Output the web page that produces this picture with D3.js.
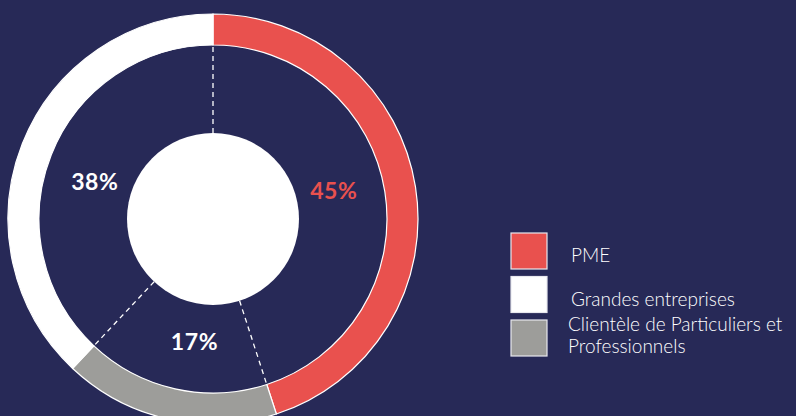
<!DOCTYPE html>
<html>
<head>
<meta charset="utf-8">
<script src="https://cdn.jsdelivr.net/npm/d3@7"></script>
<style>
  html, body { margin: 0; padding: 0; background: #272957; }
  svg { display: block; }
</style>
</head>
<body>
<script>
// chart data
var categories = ["PME", "Clientèle de Particuliers et Professionnels", "Grandes entreprises"];
var values = [45, 17, 38];
var colors = ["#e9514e", "#9d9d9a", "#ffffff"];
var labelColors = ["#e9514e", "#ffffff", "#ffffff"];

// legend order as in the picture
var legendOrder = ["PME", "Grandes entreprises", "Clientèle de Particuliers et Professionnels"];
var legendLines = [["PME"], ["Grandes entreprises"], ["Clientèle de Particuliers et", "Professionnels"]];

var svgWidth = 796;
var svgHeight = 416;

var cx = 213, cy = 219;
var outerR = 205, innerR = 174, holeR = 86;

var svg = d3.select("body").append("svg")
  .attr("width", svgWidth)
  .attr("height", svgHeight);

svg.append("rect")
  .attr("width", svgWidth)
  .attr("height", svgHeight)
  .attr("fill", "#272957");

var data = categories.map(function(c, i) {
  return { name: c, value: values[i], color: colors[i], labelColor: labelColors[i] };
});

var pie = d3.pie().sort(null).value(d => d.value);
var arcs = pie(data);

var arc = d3.arc().innerRadius(innerR).outerRadius(outerR);

var chartGroup = svg.append("g")
  .attr("transform", `translate(${cx}, ${cy})`);

chartGroup.selectAll("path.slice")
  .data(arcs)
  .enter().append("path")
  .attr("class", "slice")
  .attr("d", arc)
  .attr("fill", d => d.data.color)
  .attr("stroke", "#ffffff")
  .attr("stroke-width", 1.2);

// centre disc
chartGroup.append("circle")
  .attr("r", holeR)
  .attr("fill", "#ffffff");

// dashed separators at each slice boundary
chartGroup.selectAll("line.sep")
  .data(arcs)
  .enter().append("line")
  .attr("class", "sep")
  .attr("x1", d => Math.sin(d.startAngle) * holeR)
  .attr("y1", d => -Math.cos(d.startAngle) * holeR)
  .attr("x2", d => Math.sin(d.startAngle) * innerR)
  .attr("y2", d => -Math.cos(d.startAngle) * innerR)
  .attr("stroke", "#ffffff")
  .attr("stroke-width", 1.3)
  .attr("stroke-dasharray", "5,4");

// percentage labels, a little before the middle of each slice
var labelR = 124, labelShift = -4 * Math.PI / 180;
chartGroup.selectAll("text.pct")
  .data(arcs)
  .enter().append("text")
  .attr("class", "pct")
  .attr("transform", function(d) {
    var a = (d.startAngle + d.endAngle) / 2 + labelShift;
    return `translate(${Math.sin(a) * labelR}, ${-Math.cos(a) * labelR})`;
  })
  .attr("text-anchor", "middle")
  .attr("dy", "0.35em")
  .attr("font-family", "Lato, 'Open Sans', sans-serif")
  .attr("font-weight", "bold")
  .attr("font-size", 23)
  .attr("letter-spacing", 0.6)
  .attr("fill", d => d.data.labelColor)
  .text(d => d.data.value + "%");

// legend
var legendY = d3.scalePoint().domain(legendOrder).range([251, 338]);
var legend = svg.append("g").attr("transform", "translate(511, 0)");

var items = legend.selectAll("g.item")
  .data(legendOrder)
  .enter().append("g")
  .attr("class", "item")
  .attr("transform", d => `translate(0, ${legendY(d)})`);

items.append("rect")
  .attr("x", 0)
  .attr("y", -18)
  .attr("width", 36)
  .attr("height", 36)
  .attr("fill", d => colors[categories.indexOf(d)])
  .attr("stroke", "#e8e8ee")
  .attr("stroke-width", 1.2);

items.append("text")
  .attr("font-family", "Lato, 'Open Sans', sans-serif")
  .attr("font-size", 19)
  .attr("font-weight", 300)
  .attr("fill", "#ffffff")
  .each(function(d, i) {
    var lines = legendLines[i];
    var t = d3.select(this);
    lines.forEach(function(line, j) {
      t.append("tspan")
        .attr("x", lines.length > 1 ? 57 : 60)
        .attr("y", lines.length > 1 ? -7 + j * 22 : 11)
        .text(line);
    });
  });
</script>
</body>
</html>
